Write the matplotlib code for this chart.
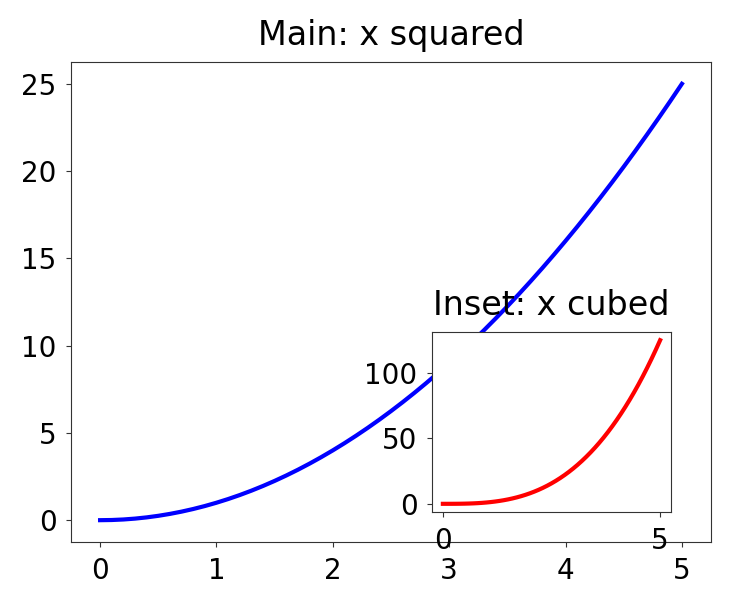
import matplotlib
matplotlib.use("Agg")
import matplotlib.pyplot as plt

x_vals = [0.0, 0.1, 0.2, 0.3, 0.4, 0.5, 0.6, 0.7, 0.8, 0.9, 1.0,
          1.1, 1.2, 1.3, 1.4, 1.5, 1.6, 1.7, 1.8, 1.9, 2.0,
          2.1, 2.2, 2.3, 2.4, 2.5, 2.6, 2.7, 2.8, 2.9, 3.0,
          3.1, 3.2, 3.3, 3.4, 3.5, 3.6, 3.7, 3.8, 3.9, 4.0,
          4.1, 4.2, 4.3, 4.4, 4.5, 4.6, 4.7, 4.8, 4.9, 5.0]
y_squared = [0.0, 0.01, 0.04, 0.09, 0.16, 0.25, 0.36, 0.49, 0.64, 0.81, 1.0,
             1.21, 1.44, 1.69, 1.96, 2.25, 2.56, 2.89, 3.24, 3.61, 4.0,
             4.41, 4.84, 5.29, 5.76, 6.25, 6.76, 7.29, 7.84, 8.41, 9.0,
             9.61, 10.24, 10.89, 11.56, 12.25, 12.96, 13.69, 14.44, 15.21, 16.0,
             16.81, 17.64, 18.49, 19.36, 20.25, 21.16, 22.09, 23.04, 24.01, 25.0]
y_cubed = [0.0, 0.001, 0.008, 0.027, 0.064, 0.125, 0.216, 0.343, 0.512, 0.729, 1.0,
           1.331, 1.728, 2.197, 2.744, 3.375, 4.096, 4.913, 5.832, 6.859, 8.0,
           9.261, 10.648, 12.167, 13.824, 15.625, 17.576, 19.683, 21.952, 24.389, 27.0,
           29.791, 32.768, 35.937, 39.304, 42.875, 46.656, 50.653, 54.872, 59.319, 64.0,
           68.921, 74.088, 79.507, 85.184, 91.125, 97.336, 103.823, 110.592, 117.649, 125.0]

main_title = "Main: x squared"
inset_title = "Inset: x cubed"
inset_xticks = [0, 5]
inset_yticks = [0, 50, 100]

plt.rcParams['font.family'] = ['DejaVu Sans']
fig = plt.figure(figsize=(7.3, 6.05), dpi=100)
ax = fig.add_axes([71/730, 63/605, 640/730, 480/605])
ax.plot(x_vals, y_squared, color='blue', linewidth=3)
ax.set_title(main_title, fontsize=24, pad=12)
ax.tick_params(labelsize=20, color='#333333', pad=7)
for s in ax.spines.values():
    s.set_color('#333333')

axi = fig.add_axes([432/730, 93/605, 239/730, 180/605])
axi.plot(x_vals, y_cubed, color='red', linewidth=3)
axi.set_title(inset_title, fontsize=24, pad=12)
axi.set_xticks(inset_xticks)
axi.set_yticks(inset_yticks)
axi.tick_params(labelsize=20, color='#333333', pad=7)
for s in axi.spines.values():
    s.set_color('#333333')

fig.savefig("out.png", dpi=100)
